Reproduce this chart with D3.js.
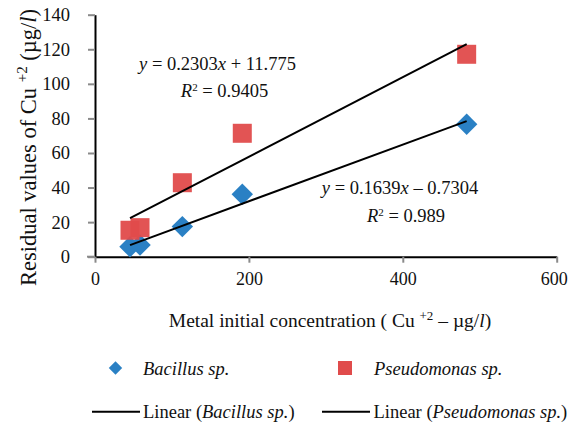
<!DOCTYPE html>
<html>
<head>
<meta charset="utf-8">
<script src="https://cdn.jsdelivr.net/npm/d3@7"></script>
<style>
  html, body { margin: 0; padding: 0; background: #fff; }
  svg { display: block; font-family: "Liberation Serif", "DejaVu Serif", serif; }
</style>
</head>
<body>
<svg id="chart" width="569" height="426"></svg>
<script>
// ---- data ----
const concentrations = [45.5, 58.5, 113.5, 191.4, 483];
const bacillusValues = [5.8, 6.8, 17.4, 36.1, 76.6];
const pseudomonasValues = [15.3, 16.8, 42.8, 71.4, 117.1];
const trendSlopes = { bacillus: 0.1639, pseudomonas: 0.2303 };
const trendIntercepts = { bacillus: -0.7304, pseudomonas: 11.775 };
const xTicks = [0, 200, 400, 600];
const yTicks = [0, 20, 40, 60, 80, 100, 120, 140];
const seriesNames = ["Bacillus sp.", "Pseudomonas sp."];

const blue = "#2A80C4", red = "#E04B4B";
const svg = d3.select("#chart");

const x = d3.scaleLinear().domain([0, 600]).range([95, 556.7]);
const y = d3.scaleLinear().domain([0, 140]).range([256.7, 14.7]);

// y axis
const gy = svg.append("g").attr("transform", `translate(${x(0)},0)`)
  .call(d3.axisLeft(y).tickValues(yTicks).tickSize(7).tickPadding(18).tickSizeOuter(0));
gy.select(".domain").attr("stroke", "#000").attr("stroke-width", 2);
gy.selectAll(".tick line").attr("stroke", "#8a8a8a").attr("stroke-width", 2);
gy.selectAll(".tick text").attr("font-size", 18.5).attr("fill", "#111")
  .attr("font-family", "Liberation Serif");

// x axis
const gx = svg.append("g").attr("transform", `translate(0,${y(0)})`)
  .call(d3.axisBottom(x).tickValues(xTicks).tickSize(6).tickSizeOuter(0));
gx.select(".domain").attr("stroke", "#000").attr("stroke-width", 2);
gx.selectAll(".tick line").attr("stroke", "#8a8a8a").attr("stroke-width", 2);
gx.selectAll(".tick text").attr("font-size", 18).attr("fill", "#111")
  .attr("font-family", "Liberation Serif").attr("y", 28.5).attr("dy", null)
  .attr("x", d => d === 600 ? -3 : 0);
// x-axis line extends left to the y tick
svg.append("line").attr("x1", x(0) - 8).attr("x2", x(0)).attr("y1", y(0)).attr("y2", y(0))
  .attr("stroke", "#8a8a8a").attr("stroke-width", 2);

// markers
svg.append("g").selectAll("path.bac").data(concentrations).join("path")
  .attr("class", "bac")
  .attr("transform", (d, i) => `translate(${x(d)},${y(bacillusValues[i])}) rotate(45)`)
  .attr("d", d3.symbol().type(d3.symbolSquare).size(230))
  .attr("fill", blue);

svg.append("g").selectAll("rect.pse").data(concentrations).join("rect")
  .attr("class", "pse")
  .attr("x", d => x(d) - 9.5).attr("width", 19)
  .attr("y", (d, i) => y(pseudomonasValues[i]) - 9.5).attr("height", 19)
  .attr("fill", red).attr("opacity", 0.95);

// trend lines
const xMin = d3.min(concentrations), xMax = d3.max(concentrations);
["pseudomonas", "bacillus"].forEach(k => {
  const f = v => trendSlopes[k] * v + trendIntercepts[k];
  svg.append("line")
    .attr("x1", x(xMin)).attr("y1", y(f(xMin)))
    .attr("x2", x(xMax)).attr("y2", y(f(xMax)))
    .attr("stroke", "#000").attr("stroke-width", 2);
});

// equations
function eq(cx, by, parts) {
  const t = svg.append("text").attr("x", cx).attr("y", by).attr("text-anchor", "middle")
    .attr("font-size", 18.5).attr("fill", "#111");
  parts.forEach(p => {
    const s = t.append("tspan").text(p.t);
    if (p.i) s.attr("font-style", "italic");
    if (p.sup) s.attr("font-size", 11).attr("baseline-shift", "super");
  });
  return t;
}
eq(217.5, 70, [{t: "y", i: 1}, {t: " = 0.2303"}, {t: "x", i: 1}, {t: " + 11.775"}]);
eq(224.5, 97.3, [{t: "R", i: 1}, {t: "2", sup: 1}, {t: " = 0.9405"}]);
eq(400, 194.3, [{t: "y", i: 1}, {t: " = 0.1639"}, {t: "x", i: 1}, {t: " \u2013 0.7304"}]);
eq(406, 221.7, [{t: "R", i: 1}, {t: "2", sup: 1}, {t: " = 0.989"}]);

// x axis title
const xt = svg.append("text").attr("x", 330).attr("y", 327).attr("text-anchor", "middle")
  .attr("font-size", 19.5).attr("fill", "#111");
xt.append("tspan").text("Metal initial concentration ( Cu ");
xt.append("tspan").text("+2").attr("font-size", 13).attr("dy", -7);
xt.append("tspan").text("  \u2013 \u00b5g/").attr("dy", 7);
xt.append("tspan").text("l").attr("font-style", "italic");
xt.append("tspan").text(")");

// y axis title
const yt = svg.append("text").attr("transform", "translate(36,147.5) rotate(-90)")
  .attr("text-anchor", "middle").attr("font-size", 22.5).attr("fill", "#111");
yt.append("tspan").text("Residual values of Cu ");
yt.append("tspan").text("+2").attr("font-size", 15).attr("dy", -9);
yt.append("tspan").text(" (\u00b5g/").attr("dy", 9);
yt.append("tspan").text("l").attr("font-style", "italic");
yt.append("tspan").text(")");

// legend
const lg = svg.append("g");
lg.append("path").attr("transform", "translate(115.5,368) rotate(45)")
  .attr("d", d3.symbol().type(d3.symbolSquare).size(90)).attr("fill", blue);
lg.append("rect").attr("x", 338).attr("y", 361).attr("width", 14).attr("height", 14).attr("fill", red);
lg.append("text").attr("x", 143).attr("y", 375).attr("font-size", 18.5).attr("font-style", "italic")
  .attr("fill", "#111").text(seriesNames[0]);
lg.append("text").attr("x", 374).attr("y", 375).attr("font-size", 18.5).attr("font-style", "italic")
  .attr("fill", "#111").text(seriesNames[1]);
[[92, 140, 143, seriesNames[0]], [322, 370, 373.5, seriesNames[1]]].forEach(([a, b, tx, nm]) => {
  lg.append("line").attr("x1", a).attr("x2", b).attr("y1", 411.7).attr("y2", 411.7)
    .attr("stroke", "#000").attr("stroke-width", 2);
  const t = lg.append("text").attr("x", tx).attr("y", 418).attr("font-size", 18.5).attr("fill", "#111");
  t.append("tspan").text("Linear (");
  t.append("tspan").text(nm).attr("font-style", "italic");
  t.append("tspan").text(")");
});
</script>
</body>
</html>
